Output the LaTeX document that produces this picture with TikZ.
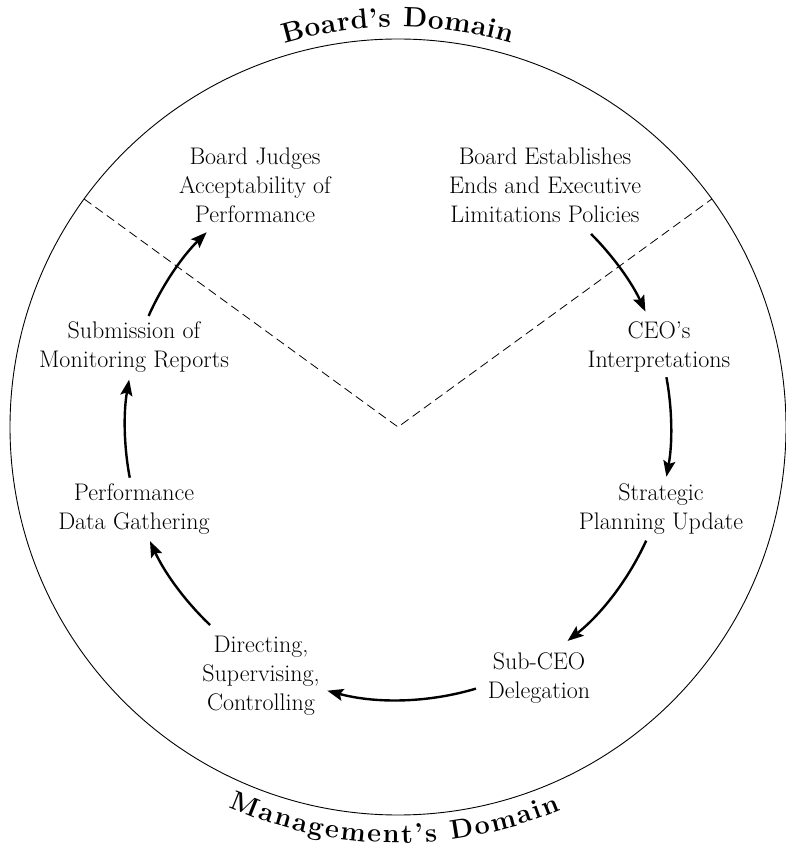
\documentclass[tikz,border=0pt]{standalone}
\usepackage{tikz}
\usetikzlibrary{arrows.meta}
\usetikzlibrary{decorations.text}

\tikzset{
  stage/.style={font=\fontsize{24}{29}\selectfont, align=center, anchor=base, inner sep=0pt},
  flow/.style={line width=2.4pt, -{Stealth[length=16pt,width=12pt,inset=3pt]}},
}

\begin{document}
\begin{tikzpicture}[x=1pt,y=1pt]
    \newcommand{\R}{388}
    \newcommand{\rr}{273}
    \useasboundingbox (-398,-424) rectangle (387,427);
    \path (0,0) coordinate (O);
    \path (144:\R) coordinate (L);
    \path ( 36:\R) coordinate (Rt);
    \draw[line width=0.9pt] (O) circle[radius=\R pt];
    \draw[line width=0.8pt,dash pattern=on 9pt off 5pt] (L)--(O)--(Rt);
    % stages (placed at the baseline of their last line)
    \node[stage] (judge) at (-143,204) {Board Judges\\Acceptability of\\Performance};
    \node[stage] (ends)  at ( 147,204) {Board Establishes\\Ends and Executive\\Limitations Policies};
    \node[stage] (ceo)   at ( 261, 59) {CEO's\\Interpretations};
    \node[stage] (plan)  at ( 263,-102) {Strategic\\Planning Update};
    \node[stage] (sub)   at ( 141,-271) {Sub-CEO\\Delegation};
    \node[stage] (direct) at (-137,-283) {Directing,\\Supervising,\\Controlling};
    \node[stage] (gather) at (-264,-102) {Performance\\Data Gathering};
    \node[stage] (report) at (-264, 59) {Submission of\\Monitoring Reports};
    % arrows along the inner ring
    \foreach \s/\e [count=\i] in {45/25, 10.5/-10.5, -24.6/-51.6, -73.4/-105, -133.5/-155.3, -169.3/-190, 156/134.5}
      {\path (\s:\rr) coordinate (f\i);
       \draw[flow] (f\i) arc[start angle=\s, end angle=\e, radius=\rr pt];}
    % domain titles
    \path[decorate,decoration={text along path,text align=fit to path,
        text={|\bfseries\fontsize{28}{30}\selectfont|Board's Domain}}]
        (106.5:400) arc[start angle=106.5, end angle=73.5, radius=400pt];
    \path[decorate,decoration={text along path,text align=fit to path,
        text={|\bfseries\fontsize{27}{30}\selectfont|Management's Domain}}]
        (-114:416) arc[start angle=-114, end angle=-67, radius=416pt];
\end{tikzpicture}
\end{document}
